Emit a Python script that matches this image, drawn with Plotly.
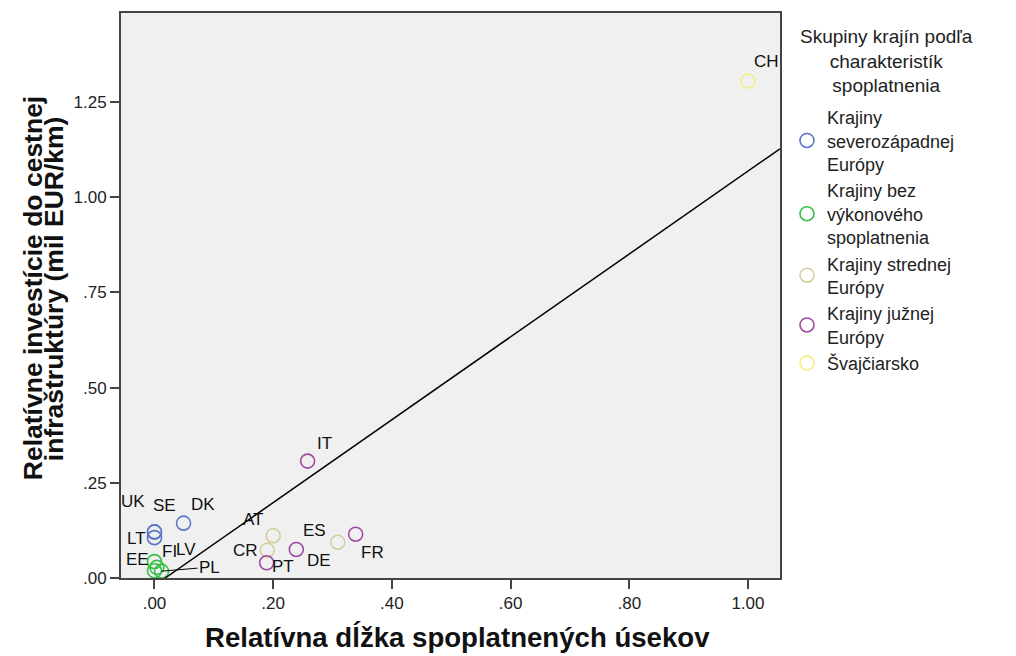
import numpy as np
import plotly.graph_objects as go

# ---- data ----
countries = ["UK", "SE", "LT", "DK", "EE", "FI", "LV", "PL",
             "AT", "CR", "DE", "PT", "ES", "FR", "IT", "CH"]
groups = [0, 0, 0, 0, 1, 1, 1, 1, 2, 2, 2, 3, 3, 3, 3, 4]
x_len = [0.000, 0.000, 0.000, 0.049, 0.000, 0.000, 0.004, 0.012,
         0.200, 0.190, 0.309, 0.189, 0.239, 0.339, 0.258, 1.000]
y_inv = [0.121, 0.121, 0.106, 0.144, 0.043, 0.019, 0.028, 0.018,
         0.111, 0.073, 0.094, 0.040, 0.075, 0.115, 0.307, 1.305]
group_names = ["Krajiny<br>severozápadnej<br>Európy",
               "Krajiny bez<br>výkonového<br>spoplatnenia",
               "Krajiny strednej<br>Európy",
               "Krajiny južnej<br>Európy",
               "Švajčiarsko"]
legend_title = "Skupiny krajín podľa<br>charakteristík<br>spoplatnenia"
x_ticks = [0.0, 0.2, 0.4, 0.6, 0.8, 1.0]
x_ticktext = [".00", ".20", ".40", ".60", ".80", "1.00"]
y_ticks = [0.0, 0.25, 0.5, 0.75, 1.0, 1.25]
y_ticktext = [".00", ".25", ".50", ".75", "1.00", "1.25"]

# ---- styles ----
group_colors = ["#5B78C8", "#3CBF4A", "#D4CE9E", "#A04AA0", "#F2EE84"]
# label offsets (pixels) relative to each point
label_dx = [-21, 10, -18, 19, -17, 15, 29, 0, -20, -22, -19, 16, 18, 17, 17, 19]
label_dy = [30, 26, -1, 19, 2, 19, 18, 0, 16, 0, -18, -4, 19, -18, 18, 20]

FONT = "Liberation Sans, Arial, sans-serif"
X_RANGE = [-0.0564, 1.054]
Y_RANGE = [0.0, 1.4837]

fig = go.Figure()

for g, (name, col) in enumerate(zip(group_names, group_colors)):
    xs = [x for x, gg in zip(x_len, groups) if gg == g]
    ys = [y for y, gg in zip(y_inv, groups) if gg == g]
    fig.add_trace(go.Scatter(
        x=xs, y=ys, mode="markers", name=name,
        marker=dict(symbol="circle-open", size=14, color=col,
                    line=dict(width=1.6, color=col)),
        cliponaxis=False, showlegend=True,
    ))

# linear fit line (OLS on data), drawn from y=0 to the right edge
a, b = np.polyfit(np.array(x_len), np.array(y_inv), 1)
x0 = -b / a
x1 = X_RANGE[1]
fig.add_trace(go.Scatter(
    x=[x0, x1], y=[a * x0 + b, a * x1 + b], mode="lines",
    line=dict(color="black", width=1.5), showlegend=False, hoverinfo="skip",
))

annotations = []
for c, x, y, dx, dy in zip(countries, x_len, y_inv, label_dx, label_dy):
    if c == "PL":
        annotations.append(dict(
            x=x, y=y, xref="x", yref="y", text=c, showarrow=True,
            arrowhead=0, arrowwidth=1, arrowcolor="black", ax=48, ay=-4,
            standoff=0, font=dict(family=FONT, size=17, color="#111111")))
    else:
        annotations.append(dict(
            x=x, y=y, xref="x", yref="y", text=c, showarrow=False,
            xshift=dx, yshift=dy,
            font=dict(family=FONT, size=17, color="#111111")))

# axis titles
annotations.append(dict(
    x=0.511, y=-0.1044, xref="paper", yref="paper", showarrow=False,
    text="<b>Relatívna dĺžka spoplatnených úsekov</b>",
    font=dict(family=FONT, size=27.6, color="#111111"),
    xanchor="center", yanchor="middle"))
annotations.append(dict(
    x=-0.1335, y=0.513, xref="paper", yref="paper", showarrow=False,
    text="<b>Relatívne investície do cestnej</b>", textangle=-90,
    font=dict(family=FONT, size=26.5, color="#111111"),
    xanchor="center", yanchor="middle"))
annotations.append(dict(
    x=-0.1017, y=0.513, xref="paper", yref="paper", showarrow=False,
    text="<b>infraštruktúry (mil EUR/km)</b>", textangle=-90,
    font=dict(family=FONT, size=26.5, color="#111111"),
    xanchor="center", yanchor="middle"))
# legend title (centered block)
annotations.append(dict(
    x=1.162, y=0.915, xref="paper", yref="paper", showarrow=False,
    text=legend_title, align="center",
    font=dict(family=FONT, size=19, color="#222222"),
    xanchor="center", yanchor="middle"))

axis_common = dict(
    showline=True, linecolor="#444444", linewidth=2, mirror=True,
    showgrid=False, zeroline=False, ticks="outside", ticklen=9,
    tickwidth=1.5, tickcolor="#444444",
    tickfont=dict(family=FONT, size=17, color="#222222"),
)

# page body has an 8px margin: figure is placed at (8, 8)
fig.update_layout(
    width=1016, height=656,
    margin=dict(l=113, r=244, t=5, b=86, autoexpand=False),
    paper_bgcolor="white", plot_bgcolor="#F0F0F0",
    font=dict(family=FONT, color="#111111"),
    xaxis=dict(range=X_RANGE, tickvals=x_ticks, ticktext=x_ticktext, **axis_common),
    yaxis=dict(range=Y_RANGE, tickvals=y_ticks, ticktext=y_ticktext, **axis_common),
    legend=dict(
        x=1.0106, y=0.848, xanchor="left", yanchor="top",
        font=dict(family=FONT, size=18, color="#222222"),
        bgcolor="rgba(0,0,0,0)", itemsizing="trace", tracegroupgap=0,
    ),
    annotations=annotations,
    showlegend=True,
)

fig.write_html("out.html")
